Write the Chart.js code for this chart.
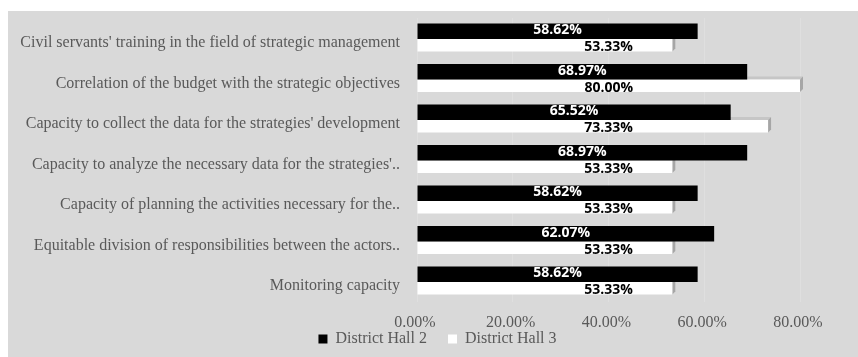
<!DOCTYPE html>
<html>
<head>
<meta charset="utf-8">
<script src="https://cdn.jsdelivr.net/npm/chart.js@4/dist/chart.umd.min.js"></script>
<style>
  html, body { margin: 0; padding: 0; background: #ffffff; }
  #wrap { position: absolute; left: 8px; top: 11px; width: 850px; height: 346px; background: #d9d9d9; }
</style>
</head>
<body>
<div id="wrap"><canvas id="c" width="850" height="346"></canvas></div>
<script>
const categories = [
  "Civil servants' training in the field of strategic management",
  "Correlation of the budget with the strategic objectives",
  "Capacity to collect the data for the strategies' development",
  "Capacity to analyze the necessary data for the strategies'..",
  "Capacity of planning the activities necessary for the..",
  "Equitable division of responsibilities between the actors..",
  "Monitoring capacity"
];
const districtHall2 = [58.62, 68.97, 65.52, 68.97, 58.62, 62.07, 58.62];
const districtHall3 = [53.33, 80.00, 73.33, 53.33, 53.33, 53.33, 53.33];
const seriesNames = ['District Hall 2', 'District Hall 3'];

const SERIF = '"Liberation Serif", "Times New Roman", serif';

const depthPlugin = {
  id: 'depth',
  beforeDatasetsDraw(chart) {
    const ctx = chart.ctx;
    const meta = chart.getDatasetMeta(1);
    const d = 3;
    ctx.save();
    meta.data.forEach(bar => {
      const top = bar.y - bar.height / 2;
      const bottom = bar.y + bar.height / 2;
      const base = bar.base, x = bar.x;
      ctx.fillStyle = '#c6c6c6';
      ctx.beginPath();
      ctx.moveTo(base, top); ctx.lineTo(x, top); ctx.lineTo(x + d, top - d); ctx.lineTo(base + d, top - d);
      ctx.closePath(); ctx.fill();
      ctx.fillStyle = '#a6a6a6';
      ctx.beginPath();
      ctx.moveTo(x, top); ctx.lineTo(x + d, top - d); ctx.lineTo(x + d, bottom - d); ctx.lineTo(x, bottom);
      ctx.closePath(); ctx.fill();
    });
    ctx.restore();
  }
};

const labelPlugin = {
  id: 'valueLabels',
  afterDatasetsDraw(chart) {
    const ctx = chart.ctx;
    const xs = chart.scales.x;
    ctx.save();
    ctx.font = 'bold 14px "Open Sans"';
    ctx.textAlign = 'center';
    ctx.textBaseline = 'middle';
    chart.getDatasetMeta(0).data.forEach((bar, i) => {
      ctx.fillStyle = '#ffffff';
      ctx.fillText(districtHall2[i].toFixed(2) + '%', (bar.base + bar.x) / 2, bar.y - 1);
    });
    chart.getDatasetMeta(1).data.forEach((bar, i) => {
      ctx.fillStyle = '#000000';
      const cx = Math.max(xs.getPixelForValue(40), (bar.base + bar.x) / 2);
      ctx.fillText(districtHall3[i].toFixed(2) + '%', cx, bar.y + 2);
    });
    ctx.restore();
  }
};

const legendShift = {
  id: 'legendShift',
  afterLayout(chart) {
    if (chart.legend) chart.legend.left += 67;
  }
};

new Chart(document.getElementById('c'), {
  type: 'bar',
  data: {
    labels: categories,
    datasets: [
      { label: seriesNames[0], data: districtHall2, backgroundColor: '#000000',
        categoryPercentage: 0.69, barPercentage: 1.1 },
      { label: seriesNames[1], data: districtHall3, backgroundColor: '#ffffff',
        categoryPercentage: 0.69, barPercentage: 0.9 }
    ]
  },
  options: {
    indexAxis: 'y',
    responsive: false,
    animation: false,
    layout: { padding: { top: 7, right: 58, bottom: 0, left: 0 } },
    scales: {
      x: {
        min: 0, max: 80,
        afterFit(scale) { scale.height = 28.5; },
        grid: { color: '#dfdfdf', drawTicks: false },
        border: { display: false },
        ticks: {
          stepSize: 20,
          padding: 12,
          labelOffset: -2,
          color: '#595959',
          font: { family: SERIF, size: 16 },
          callback: v => Number(v).toFixed(2) + '%'
        }
      },
      y: {
        afterFit(scale) {
          scale.width = 409;
          scale.paddingTop = 0;
          scale.paddingBottom = 0;
        },
        grid: { display: false, drawTicks: false },
        border: { display: false },
        ticks: {
          padding: 17,
          labelOffset: 5,
          color: '#595959',
          font: { family: SERIF, size: 16 }
        }
      }
    },
    plugins: {
      legend: {
        position: 'bottom',
        labels: {
          boxWidth: 9, boxHeight: 9, padding: 1,
          color: '#595959',
          font: { family: SERIF, size: 16 },
          generateLabels(chart) {
            const items = Chart.defaults.plugins.legend.labels.generateLabels(chart);
            items.forEach((it, i) => { if (i < items.length - 1) it.text = it.text + '     '; });
            return items;
          }
        }
      },
      tooltip: { enabled: false }
    }
  },
  plugins: [depthPlugin, labelPlugin, legendShift]
});
</script>
</body>
</html>
